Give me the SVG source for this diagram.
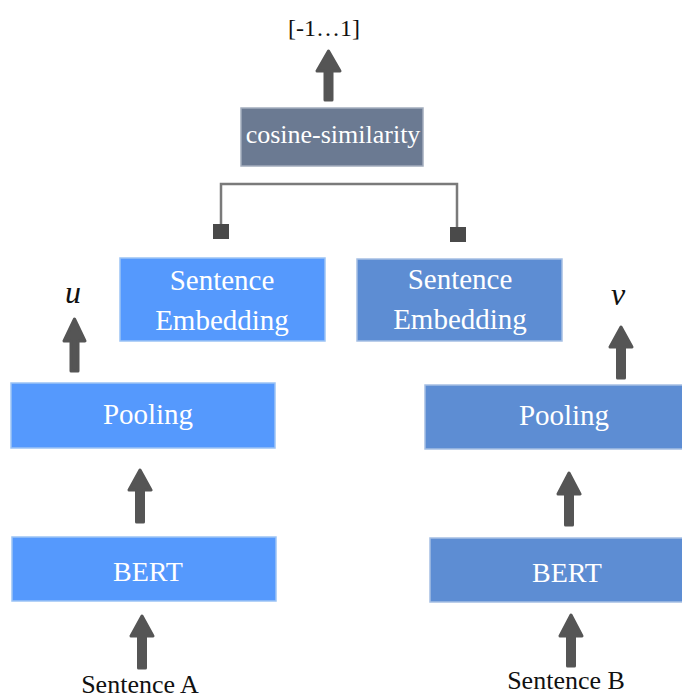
<svg xmlns="http://www.w3.org/2000/svg" width="682" height="700" viewBox="0 0 682 700">
<style>
.lbl{font-family:"Liberation Serif","DejaVu Serif",serif;fill:#ffffff;text-anchor:middle;}
.txt{font-family:"Liberation Serif","DejaVu Serif",serif;fill:#111111;text-anchor:middle;}
.a{fill:#555555;stroke:#555555;stroke-width:3;stroke-linejoin:round;}
.bA{fill:#5599fd;stroke:#9cc3f5;stroke-width:1.5;}
.bB{fill:#5d8dd3;stroke:#a5bfe3;stroke-width:1.5;}
.bC{fill:#6b7a92;stroke:#a3adbd;stroke-width:1.5;}
</style>
<rect width="682" height="700" fill="#ffffff"/>
<g id="connectors">
<path d="M221,232 V184 H457 V236" fill="none" stroke="#7a7a7a" stroke-width="2.5"/>
<rect x="213" y="224" width="16" height="15" fill="#4a4a4a"/>
<rect x="450" y="227" width="16" height="15" fill="#4a4a4a"/>
<polygon class="a" points="328.5,51 340,71 332,71 332,100 325,100 325,71 317,71"/>
<polygon class="a" points="74.5,319 85,341 78,341 78,371 71,371 71,341 64,341"/>
<polygon class="a" points="621,327 632,347 624.5,347 624.5,378 617.5,378 617.5,347 610,347"/>
<polygon class="a" points="140,470 151,490 143.5,490 143.5,522 136.5,522 136.5,490 129,490"/>
<polygon class="a" points="142,616 153,636 145.5,636 145.5,668 138.5,668 138.5,636 131,636"/>
<polygon class="a" points="569,473 580,494 572.5,494 572.5,525 565.5,525 565.5,494 558,494"/>
<polygon class="a" points="571,615 582,636 574.5,636 574.5,666 567.5,666 567.5,636 560,636"/>
</g>
<g id="output"><text class="txt" x="324" y="36" font-size="24">[-1…1]</text></g>
<g id="cosine"><rect class="bC" x="241" y="108" width="182" height="58"/><text class="lbl" x="333" y="143" font-size="26">cosine-similarity</text></g>
<g id="embA"><rect class="bA" x="120" y="258" width="205" height="83"/><text class="lbl" x="222" y="290" font-size="29">Sentence</text><text class="lbl" x="222" y="330" font-size="29">Embedding</text></g>
<g id="embB"><rect class="bB" x="357" y="259" width="205" height="82"/><text class="lbl" x="460" y="289" font-size="29">Sentence</text><text class="lbl" x="460" y="329" font-size="29">Embedding</text></g>
<g id="u"><text class="txt" x="73" y="303" font-size="32" font-style="italic">u</text></g>
<g id="v"><text class="txt" x="618" y="305" font-size="32" font-style="italic">v</text></g>
<g id="poolA"><rect class="bA" x="11" y="383" width="264" height="65"/><text class="lbl" x="148" y="424" font-size="29">Pooling</text></g>
<g id="poolB"><rect class="bB" x="425" y="385" width="258" height="64"/><text class="lbl" x="564" y="425" font-size="29">Pooling</text></g>
<g id="bertA"><rect class="bA" x="12" y="537" width="264" height="64"/><text class="lbl" x="148" y="581" font-size="28">BERT</text></g>
<g id="bertB"><rect class="bB" x="430" y="538" width="253" height="64"/><text class="lbl" x="567" y="582" font-size="28">BERT</text></g>
<g id="sentA"><text class="txt" x="140" y="693" font-size="26">Sentence A</text></g>
<g id="sentB"><text class="txt" x="566" y="689" font-size="26">Sentence B</text></g>
</svg>
